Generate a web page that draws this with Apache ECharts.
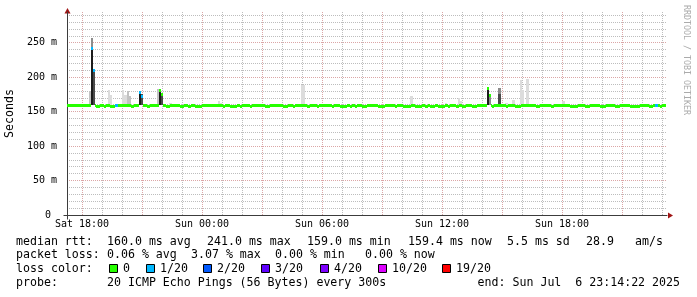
<!DOCTYPE html>
<html><head><meta charset="utf-8">
<script src="https://cdn.jsdelivr.net/npm/echarts@6/dist/echarts.min.js"></script>
<style>html,body{margin:0;padding:0;background:#fff}#c{width:697px;height:297px}</style>
</head><body><div id="c"></div>
<script>
// ---------------- DATA ----------------
// time unit: hours since Sat 00:00
const timeStart = 17.25;
const timeEnd = 47.25;
const dataEnd = 47.22;
const yMax = 294.5;
const xTickValues = [18, 24, 30, 36, 42];
const xTickLabels = ['Sat 18:00', 'Sun 00:00', 'Sun 06:00', 'Sun 12:00', 'Sun 18:00'];
const yTickValues = [0, 50, 100, 150, 200, 250];
const yTickLabels = ['0 ', '50 m', '100 m', '150 m', '200 m', '250 m'];
const lossLabels = ['0', '1/20', '2/20', '3/20', '4/20', '10/20', '19/20'];
const lossColors = ['#26ff00', '#00b8ff', '#0059ff', '#5e00ff', '#7e00ff', '#dd00ff', '#ff0000'];
// median rtt change points: [hour, ms, loss index]
const medianSteps = [
  [17.25,159.3,0],[18.45,241,1],[18.55,209,1],[18.65,159.3,0],[18.70,157.8,0],[18.90,159.3,0],
  [19.10,157.8,0],[19.20,159.3,0],[19.40,157.8,0],[19.65,159.3,1],[19.80,159.3,0],[20.45,157.8,0],
  [20.60,159.3,0],[20.85,178,1],[20.95,172,1],[21.05,159.3,0],[21.25,157.8,0],[21.40,159.3,0],
  [21.85,181,0],[21.95,175,0],[22.05,159.3,0],[22.20,157.8,0],[22.40,159.3,0],[22.90,157.8,0],
  [23.10,159.3,0],[23.30,157.8,0],[23.45,159.3,0],[23.65,157.8,0],[24.00,159.3,0],[25.05,157.8,0],
  [25.15,159.3,0],[25.40,157.8,0],[25.75,159.3,0],[25.90,157.8,0],[26.00,159.3,0],[26.40,157.8,0],
  [26.50,159.3,0],[27.15,157.8,0],[27.40,159.3,0],[28.05,157.8,0],[28.30,159.3,0],[28.55,157.8,0],
  [28.65,159.3,0],[29.25,157.8,0],[29.40,159.3,0],[29.75,157.8,0],[29.83,159.3,0],[30.50,157.8,0],
  [30.58,159.3,0],[30.90,157.8,0],[31.25,159.3,0],[31.40,157.8,0],[31.50,159.3,0],[31.65,157.8,0],
  [31.75,159.3,0],[32.00,157.8,0],[32.25,159.3,0],[32.80,157.8,0],[33.15,159.3,0],[33.65,157.8,0],
  [33.75,159.3,0],[34.05,157.8,0],[34.45,159.3,0],[34.65,157.8,0],[35.00,159.3,0],[35.15,157.8,0],
  [35.30,159.3,0],[35.40,157.8,0],[35.65,159.3,0],[35.80,157.8,0],[36.15,159.3,0],[36.30,157.8,0],
  [36.40,159.3,0],[36.70,157.8,0],[36.85,159.3,0],[37.00,157.8,0],[37.20,159.3,0],[37.50,157.8,0],
  [37.75,159.3,0],[38.25,183,0],[38.35,174,0],[38.45,159.3,0],[38.50,157.8,0],[38.60,159.3,0],
  [39.20,157.8,0],[39.30,159.3,0],[39.65,157.8,0],[39.95,159.3,0],[40.70,157.8,0],[40.90,159.3,0],
  [41.45,157.8,0],[41.60,159.3,0],[42.40,157.8,0],[42.80,159.3,0],[43.15,157.8,0],[43.40,159.3,0],
  [43.90,157.8,0],[44.20,159.3,0],[44.65,157.8,0],[44.90,159.3,0],[45.40,157.8,0],[45.90,159.3,0],
  [46.35,157.8,0],[46.55,159.3,0],[46.65,159.3,1],[46.80,159.3,0],[46.90,157.8,0],[47.00,159.3,0]
];
// smoke (ping spread): [startHour, endHour, lowMs, highMs, shade index]
const smokeBars = [
  [18.35,18.45,159,180,1],[18.45,18.55,159,241,4],[18.47,18.53,241,257,2],[18.55,18.65,159,209,3],
  [19.30,19.40,159,181,0],[19.40,19.50,159,174,0],
  [20.00,20.10,159,181,0],[20.10,20.25,159,174,0],[20.25,20.35,159,180,1],[20.35,20.45,159,173,1],
  [20.85,20.95,159,180,4],[20.95,21.05,159,175,3],
  [21.75,21.85,159,183,1],[21.85,21.95,159,183,4],[21.95,22.05,159,176,3],
  [22.35,22.50,159,163,0],
  [24.80,24.90,159,166,0],[24.90,25.00,159,163,0],
  [28.95,29.15,159,189,0],
  [34.40,34.55,159,172,0],
  [36.15,36.25,159,162,0],[36.80,36.90,159,170,0],[36.90,37.00,159,166,0],
  [38.25,38.35,159,183,4],[38.35,38.45,159,176,2],
  [38.80,38.95,159,184,2],[38.80,38.95,159,176,3],
  [39.15,39.30,159,163,0],[39.50,39.65,159,167,0],
  [39.90,40.00,159,196,0],[40.00,40.10,159,181,0],[40.20,40.35,159,197,0],
  [42.00,42.15,159,165,0]
];
const legendRow1 = ['median rtt:', '160.0 ms avg', '241.0 ms max', '159.0 ms min', '159.4 ms now', '5.5 ms sd', '28.9', 'am/s'];
const legendRow2 = ['packet loss:', '0.06 % avg', '3.07 % max', '0.00 % min', '0.00 % now'];
const legendRow3Title = 'loss color:';
const legendRow4 = ['probe:', '20 ICMP Echo Pings (56 Bytes) every 300s', 'end: Sun Jul  6 23:14:22 2025'];
const watermark = 'RRDTOOL / TOBI OETIKER';
const yAxisName = 'Seconds';

// ---------------- STYLE / LAYOUT ----------------
const MONO = '"DejaVu Sans Mono", monospace';
const smokeShades = ['#dcdcdc', '#c2c2c2', '#8c8c8c', '#4a4a4a', '#1c1c1c'];
const MAJ = '#dba6a6', MIN = '#bdbdbd';
const yGridColors = [MAJ, MIN, MIN, MIN, MIN];
const row1X = [16, 107, 207, 307, 408, 507, 586, 635];
const row2X = [16, 107, 191, 275, 365];
const row3SquareX = [109, 146, 203, 261, 320, 378, 442];
const row3LabelX = [123, 160, 217, 275, 334, 392, 456];
const rowY = [241.5, 255.3, 269, 282.6];

// hourly vertical grid (major every 3 hours)
const minorHours = [], majorHours = [];
for (let h = Math.ceil(timeStart); h <= Math.floor(timeEnd); h++) {
  if (h % 3 === 0) majorHours.push([h, 0]); else minorHours.push([h, 0]);
}

const medianSegs = medianSteps.map((s, i) => [s[0], i + 1 < medianSteps.length ? medianSteps[i + 1][0] : dataEnd, s[1], s[2]]);

const chart = echarts.init(document.getElementById('c'), null, {renderer: 'canvas', width: 697, height: 297});

function findLabel(vals, labels, v) {
  for (let i = 0; i < vals.length; i++) if (Math.abs(vals[i] - v) < 1e-6) return labels[i];
  return '';
}
function vgridSeries(data, color) {
  return {
    type: 'custom', data: data, z: 1, silent: true, clip: false,
    renderItem: (params, api) => {
      const cs = params.coordSys;
      const p = api.coord([api.value(0), 0]);
      const x = Math.round(p[0]) + 0.5;
      return {type: 'line', silent: true,
              shape: {x1: x, y1: cs.y, x2: x, y2: cs.y + cs.height},
              style: {stroke: color, lineWidth: 1, lineDash: [1, 1], fill: null}};
    }
  };
}

chart.setOption({
  animation: false,
  backgroundColor: '#ffffff',
  grid: {left: 67, right: 30, top: 12, bottom: 82, containLabel: false, outerBoundsMode: 'none'},
  xAxis: {
    type: 'value', min: timeStart, max: timeEnd, interval: 0.25,
    axisLine: {show: true, lineStyle: {color: '#3c3c3c', width: 1}},
    axisTick: {show: false},
    axisLabel: {
      margin: 4, fontFamily: MONO, fontSize: 10, color: '#000',
      formatter: v => findLabel(xTickValues, xTickLabels, v)
    },
    splitLine: {show: false}
  },
  yAxis: {
    type: 'value', min: 0, max: yMax, interval: 10,
    name: yAxisName, nameLocation: 'middle', nameRotate: 90, nameGap: 50,
    nameTextStyle: {fontFamily: MONO, fontSize: 11.6, color: '#000'},
    axisLine: {show: true, lineStyle: {color: '#3c3c3c', width: 1}},
    axisTick: {show: false},
    axisLabel: {
      margin: 10, fontFamily: MONO, fontSize: 10, color: '#000',
      formatter: v => findLabel(yTickValues, yTickLabels, v)
    },
    splitLine: {show: true, showMaxLine: false, lineStyle: {color: yGridColors, width: 1, type: [1, 1]}}
  },
  series: [
    vgridSeries(minorHours, MIN),
    vgridSeries(majorHours, MAJ),
    {
      type: 'custom', name: 'smoke', data: smokeBars, encode: {x: [0, 1], y: [2, 3]}, z: 3,
      renderItem: (params, api) => {
        const a = api.coord([api.value(0), api.value(3)]);
        const b = api.coord([api.value(1), api.value(2)]);
        const x0 = Math.round(a[0]), x1 = Math.round(b[0]);
        const y0 = Math.round(a[1]), y1 = Math.round(b[1]);
        return {type: 'rect', shape: {x: x0, y: y0, width: Math.max(1, x1 - x0), height: Math.max(1, y1 - y0)},
                style: {fill: smokeShades[api.value(4)]}};
      }
    },
    {
      type: 'custom', name: 'median', data: medianSegs, encode: {x: [0, 1], y: 2}, z: 4,
      renderItem: (params, api) => {
        const a = api.coord([api.value(0), api.value(2)]);
        const b = api.coord([api.value(1), api.value(2)]);
        const x0 = Math.round(a[0]), x1 = Math.round(b[0]);
        const y0 = Math.round(a[1] - 1.5);
        return {type: 'rect', shape: {x: x0, y: y0, width: Math.max(1, x1 - x0), height: 3},
                style: {fill: lossColors[api.value(3)]}};
      }
    }
  ]
});

// decorations (arrows, legend texts)
const origin = chart.convertToPixel({gridIndex: 0}, [timeStart, 0]);
const topPt = chart.convertToPixel({gridIndex: 0}, [timeStart, yMax]);
const rightPt = chart.convertToPixel({gridIndex: 0}, [timeEnd, 0]);
const ox = Math.round(origin[0]) + 0.5, oy = Math.round(origin[1]) + 0.5;
const ARROW = '#a01414';
const g = [];
g.push({type: 'line', shape: {x1: ox - 4, y1: oy, x2: ox, y2: oy}, style: {stroke: '#3c3c3c', lineWidth: 1}});
g.push({type: 'line', shape: {x1: ox, y1: oy, x2: ox, y2: oy + 4}, style: {stroke: '#3c3c3c', lineWidth: 1}});
g.push({type: 'polygon', shape: {points: [[ox - 3, topPt[1] + 1.5], [ox + 3, topPt[1] + 1.5], [ox, topPt[1] - 4]]}, style: {fill: ARROW}});
g.push({type: 'polygon', shape: {points: [[rightPt[0] + 1, oy - 3], [rightPt[0] + 1, oy + 3], [rightPt[0] + 6, oy]]}, style: {fill: ARROW}});

function txt(s, x, y) {
  return {type: 'text', x: x, y: y, style: {text: s, x: 0, y: 0, font: '11.6px ' + MONO, fill: '#000', verticalAlign: 'middle', align: 'left'}};
}
legendRow1.forEach((s, i) => g.push(txt(s, row1X[i], rowY[0])));
legendRow2.forEach((s, i) => g.push(txt(s, row2X[i], rowY[1])));
g.push(txt(legendRow3Title, 16, rowY[2]));
lossLabels.forEach((s, i) => {
  g.push({type: 'rect', shape: {x: row3SquareX[i] + 0.5, y: rowY[2] - 4.5, width: 8, height: 8},
          style: {fill: lossColors[i], stroke: '#000', lineWidth: 1}});
  g.push(txt(s, row3LabelX[i], rowY[2]));
});
g.push(txt(legendRow4[0], 16, rowY[3]));
g.push(txt(legendRow4[1], 107, rowY[3]));
const endT = txt(legendRow4[2], 680, rowY[3]);
endT.style.align = 'right';
g.push(endT);
g.push({type: 'text', x: 686.5, y: 60, rotation: -Math.PI / 2,
        style: {text: watermark, x: 0, y: 0, font: '8.3px ' + MONO, fill: '#ababab', align: 'center', verticalAlign: 'middle'}});

chart.setOption({graphic: {elements: g}});
</script>
</body></html>
